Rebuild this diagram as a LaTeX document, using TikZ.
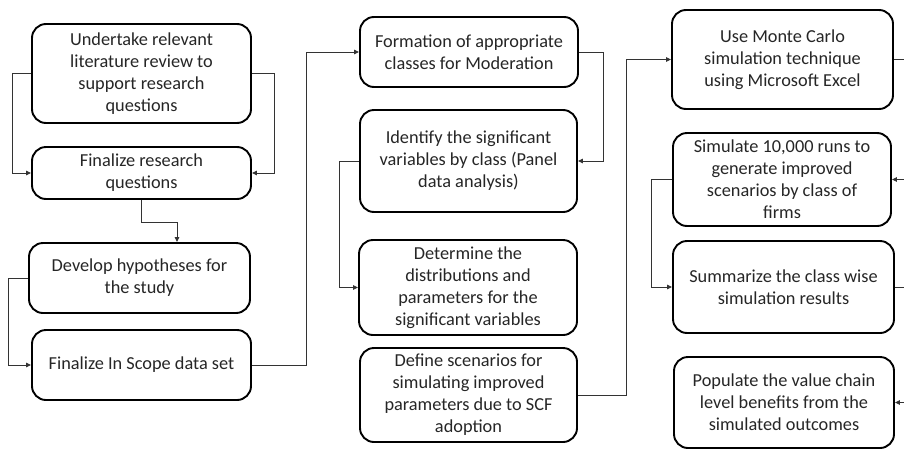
\documentclass[tikz,border=0pt]{standalone}
\usepackage{fontspec}
\setmainfont{Carlito}
\usetikzlibrary{arrows.meta}
\begin{document}
\begin{tikzpicture}[x=1pt,y=-1pt,
  box/.style={draw=black, line width=1.9pt, rounded corners=14pt, align=center,
    inner sep=0pt, font=\fontsize{18.3}{22}\selectfont, text=black!85},
  conn/.style={draw=black!80, line width=0.9pt, -{Triangle[length=5pt,width=4.5pt]}}]
\clip (0,0) rectangle (904,450);
\fill[white] (0,0) rectangle (904,450);
% first column
\node[box, minimum width=219, minimum height=99] (A) at (141.5,73.5)
  {Undertake relevant\\literature review to\\support research\\questions};
\node[box, minimum width=219, minimum height=52] (B) at (141.5,173)
  {Finalize research\\questions};
\node[box, minimum width=221, minimum height=70] (C) at (139.5,278)
  {Develop hypotheses for\\the study};
\node[box, minimum width=219, minimum height=70] (D) at (141.5,365)
  {Finalize In Scope data set};
% second column
\node[box, minimum width=218, minimum height=70] (E) at (469,52)
  {Formation of appropriate\\classes for Moderation};
\node[box, minimum width=217, minimum height=102] (F) at (468.5,161)
  {Identify the significant\\variables by class (Panel\\data analysis)};
\node[box, minimum width=218, minimum height=95] (G) at (468,287.5)
  {Determine the\\distributions and\\parameters for the\\significant variables};
\node[box, minimum width=217, minimum height=94] (H) at (468.5,395)
  {Define scenarios for\\simulating improved\\parameters due to SCF\\adoption};
% third column
\node[box, minimum width=221, minimum height=99] (I) at (782.5,59.5)
  {Use Monte Carlo\\simulation technique\\using Microsoft Excel};
\node[box, minimum width=218, minimum height=93] (J) at (782,179.5)
  {Simulate 10,000 runs to\\generate improved\\scenarios by class of\\firms};
\node[box, minimum width=221, minimum height=92] (K) at (783.5,287)
  {Summarize the class wise\\simulation results};
\node[box, minimum width=220, minimum height=91] (L) at (784,402.5)
  {Populate the value chain\\level benefits from the\\simulated outcomes};
% connectors
\draw[conn] (A.west) -- ++(-19,0) |- (B.west);
\draw[conn] (A.east) -- ++(22,0) |- (B.east);
\draw[conn] (B.south) -- ++(0,22) -| ([xshift=37.5pt]C.north);
\draw[conn] (C.west) -- ++(-20,0) |- (D.west);
\draw[conn] (D.east) -- ++(54,0) |- (E.west);
\draw[conn] (E.east) -- ++(24,0) |- (F.east);
\draw[conn] (F.west) -- ++(-20,0) |- (G.west);
\draw[conn] (H.east) -- ++(48,0) |- (I.west);
\draw[conn] (I.east) -- ++(30,0) |- (J.east);
\draw[conn] (J.west) -- ++(-21,0) |- (K.west);
\draw[conn] (K.east) -- ++(30,0) |- (L.east);
\end{tikzpicture}
\end{document}
